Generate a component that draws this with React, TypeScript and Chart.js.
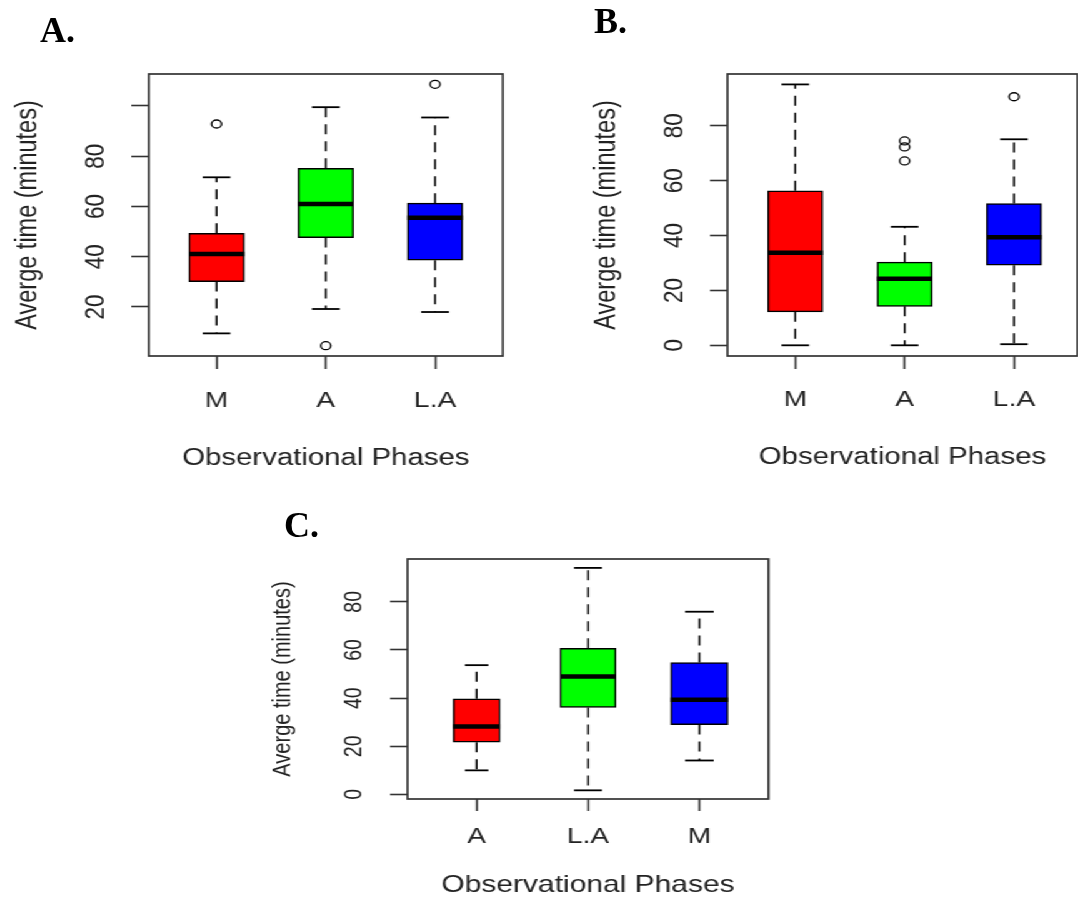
import React, { useEffect, useRef } from 'react';
import { Chart, registerables } from 'chart.js';

Chart.register(...registerables);

// ---------------- Data ----------------
// Panel A
const categoriesA = ['M', 'A', 'L.A'];
const whiskerLowA = [9.5, 19.2, 18.0];
const quartile1A = [30.1, 47.6, 38.6];
const medianA = [41.1, 61.0, 55.5];
const quartile3A = [49.3, 75.2, 61.3];
const whiskerHighA = [71.6, 99.5, 95.4];
const outliersA: number[][] = [[92.8], [4.6], [108.6]];
const yTicksA = [20, 40, 60, 80, 100];
const yTickLabelsA = ['20', '40', '60', '80', ''];

// Panel B
const categoriesB = ['M', 'A', 'L.A'];
const whiskerLowB = [0.0, 0.0, 0.4];
const quartile1B = [12.2, 14.2, 29.2];
const medianB = [33.7, 24.3, 39.4];
const quartile3B = [56.3, 30.3, 51.7];
const whiskerHighB = [95.1, 43.2, 75.1];
const outliersB: number[][] = [[], [74.5, 72.3, 67.2], [90.6]];
const yTicksB = [0, 20, 40, 60, 80];
const yTickLabelsB = ['0', '20', '40', '60', '80'];

// Panel C
const categoriesC = ['A', 'L.A', 'M'];
const whiskerLowC = [10.0, 1.7, 14.1];
const quartile1C = [21.7, 36.1, 29.0];
const medianC = [28.2, 49.0, 39.3];
const quartile3C = [39.7, 60.7, 54.8];
const whiskerHighC = [53.7, 94.1, 75.9];
const outliersC: number[][] = [[], [], []];
const yTicksC = [0, 20, 40, 60, 80];
const yTickLabelsC = ['0', '20', '40', '60', '80'];

const xAxisTitle = 'Observational Phases';
const yAxisTitle = 'Averge time (minutes)';

// ---------------- Styles / layout ----------------
const S = 1.25; // horizontal stretch of the original figure
const FONT = "'Liberation Sans', Arial, Helvetica, sans-serif";
const TEXT = '#222';
const INK = '#000';
const FRAME = '#333';
const boxColors = ['#ff0000', '#00ff00', '#0000ff'];
const PAD_T = 34;

type Panel = {
  categories: string[];
  low: number[];
  q1: number[];
  med: number[];
  q3: number[];
  high: number[];
  outliers: number[][];
  yTicks: number[];
  yTickLabels: string[];
  frame: { l: number; r: number; t: number; b: number };
  yMin: number;
  yMax: number;
  xMin: number;
  xMax: number;
  boxWidths: number[];
  yAxisW: number;
  xAxisH: number;
  xTickLen: number;
  xTickPad: number;
  yTickLen: number;
  yTickPad: number;
  xTickFont: number;
  yTickFont: number;
  xTitleFont: number;
  yTitleFont: number;
};

const panelA: Panel = {
  categories: categoriesA, low: whiskerLowA, q1: quartile1A, med: medianA, q3: quartile3A,
  high: whiskerHighA, outliers: outliersA, yTicks: yTicksA, yTickLabels: yTickLabelsA,
  frame: { l: 149, r: 503, t: 74, b: 356 },
  yMin: 0.5, yMax: 112.7, xMin: 0.38, xMax: 3.62,
  boxWidths: [55.5, 55.5, 55.5],
  yAxisW: 111, xAxisH: 117, xTickLen: 13, xTickPad: 18, yTickLen: 14, yTickPad: 15.5,
  xTickFont: 22.5, yTickFont: 22.5, xTitleFont: 23.5, yTitleFont: 23.5,
};

const panelB: Panel = {
  categories: categoriesB, low: whiskerLowB, q1: quartile1B, med: medianB, q3: quartile3B,
  high: whiskerHighB, outliers: outliersB, yTicks: yTicksB, yTickLabels: yTickLabelsB,
  frame: { l: 727, r: 1077, t: 74, b: 356 },
  yMin: -3.9, yMax: 98.9, xMin: 0.38, xMax: 3.58,
  boxWidths: [55.2, 55.2, 55.2],
  yAxisW: 111, xAxisH: 116, xTickLen: 13, xTickPad: 17.5, yTickLen: 14, yTickPad: 15.5,
  xTickFont: 22.5, yTickFont: 22.5, xTitleFont: 23.5, yTitleFont: 23.5,
};

const panelC: Panel = {
  categories: categoriesC, low: whiskerLowC, q1: quartile1C, med: medianC, q3: quartile3C,
  high: whiskerHighC, outliers: outliersC, yTicks: yTicksC, yTickLabels: yTickLabelsC,
  frame: { l: 407, r: 768, t: 559, b: 799 },
  yMin: -1.9, yMax: 97.8, xMin: 0.38, xMax: 3.62,
  boxWidths: [47, 56, 57.3],
  yAxisW: 112, xAxisH: 101, xTickLen: 12, xTickPad: 12.5, yTickLen: 14, yTickPad: 17.8,
  xTickFont: 22.5, yTickFont: 19.5, xTitleFont: 24, yTitleFont: 20,
};

function BoxPanel({ p }: { p: Panel }) {
  const ref = useRef<HTMLCanvasElement>(null);
  const plotW = (p.frame.r - p.frame.l) / S;
  const plotH = p.frame.b - p.frame.t;
  const left = p.frame.l / S - p.yAxisW;
  const top = p.frame.t - PAD_T;
  const width = Math.ceil(p.yAxisW + plotW + 8);
  const height = Math.round(PAD_T + plotH + p.xAxisH);
  const padRight = width - p.yAxisW - plotW;

  useEffect(() => {
    if (!ref.current) return;

    const datasets: any[] = p.categories.map((cat, i) => ({
      type: 'bar',
      label: cat,
      data: [{ x: i + 1, y: [p.q1[i], p.q3[i]] }],
      backgroundColor: boxColors[i],
      borderColor: INK,
      borderWidth: 1.5,
      borderSkipped: false,
      barThickness: p.boxWidths[i] / S,
      grouped: false,
      order: 2,
    }));
    datasets.push({
      type: 'scatter',
      label: 'outliers',
      data: p.outliers.flatMap((vals, i) => vals.map((v) => ({ x: i + 1, y: v }))),
      pointStyle: 'circle',
      pointRadius: 4,
      pointHoverRadius: 4,
      borderColor: INK,
      backgroundColor: 'rgba(0,0,0,0)',
      borderWidth: 1.3,
      order: 1,
    });

    const line = (ctx: CanvasRenderingContext2D, x1: number, y1: number, x2: number, y2: number) => {
      ctx.beginPath();
      ctx.moveTo(x1, y1);
      ctx.lineTo(x2, y2);
      ctx.stroke();
    };

    const boxExtras = {
      id: 'boxExtras',
      beforeDatasetsDraw(chart: any) {
        const { ctx } = chart;
        const xs = chart.scales.x;
        const ys = chart.scales.y;
        ctx.save();
        ctx.strokeStyle = INK;
        ctx.lineWidth = 1.5;
        p.categories.forEach((_, i) => {
          const bar = chart.getDatasetMeta(i).data[0];
          const cx = xs.getPixelForValue(i + 1);
          const half = bar.width / 2;
          const yLo = ys.getPixelForValue(p.low[i]);
          const yQ1 = ys.getPixelForValue(p.q1[i]);
          const yQ3 = ys.getPixelForValue(p.q3[i]);
          const yHi = ys.getPixelForValue(p.high[i]);
          ctx.setLineDash([10, 7]);
          line(ctx, cx, yQ3, cx, yHi);
          line(ctx, cx, yQ1, cx, yLo);
          ctx.setLineDash([]);
          ctx.lineWidth = 1.8;
          line(ctx, cx - half / 2, yHi, cx + half / 2, yHi);
          line(ctx, cx - half / 2, yLo, cx + half / 2, yLo);
          ctx.lineWidth = 1.5;
        });
        ctx.restore();
      },
      afterDatasetsDraw(chart: any) {
        const { ctx, chartArea } = chart;
        const ys = chart.scales.y;
        ctx.save();
        ctx.strokeStyle = INK;
        ctx.lineWidth = 4.5;
        ctx.lineCap = 'butt';
        p.categories.forEach((_, i) => {
          const bar = chart.getDatasetMeta(i).data[0];
          const ym = ys.getPixelForValue(p.med[i]);
          line(ctx, bar.x - bar.width / 2, ym, bar.x + bar.width / 2, ym);
        });
        ctx.strokeStyle = FRAME;
        ctx.lineWidth = 1.7;
        ctx.strokeRect(chartArea.left, chartArea.top, chartArea.right - chartArea.left, chartArea.bottom - chartArea.top);
        ctx.restore();
      },
    };

    const chart = new Chart(ref.current, {
      type: 'bar',
      data: { datasets },
      options: {
        animation: false,
        responsive: false,
        events: [],
        layout: { padding: { top: PAD_T, right: padRight, bottom: 0, left: 0 } },
        plugins: { legend: { display: false }, tooltip: { enabled: false } },
        scales: {
          x: {
            type: 'linear',
            min: p.xMin,
            max: p.xMax,
            offset: false,
            bounds: 'data',
            afterBuildTicks: (s: any) => {
              s.ticks = p.categories.map((_, i) => ({ value: i + 1 }));
            },
            afterFit: (s: any) => {
              s.height = p.xAxisH;
            },
            ticks: {
              callback: (v: any) => p.categories[Math.round(Number(v)) - 1] ?? '',
              font: { family: FONT, size: p.xTickFont },
              color: TEXT,
              padding: p.xTickPad,
              minRotation: 0,
              maxRotation: 0,
              autoSkip: false,
            },
            grid: {
              display: true,
              drawOnChartArea: false,
              drawTicks: true,
              tickLength: p.xTickLen,
              tickColor: FRAME,
              tickWidth: 1.6,
              offset: false,
            },
            border: { display: false },
            title: {
              display: true,
              text: xAxisTitle,
              font: { family: FONT, size: p.xTitleFont },
              color: TEXT,
              padding: 0,
            },
          },
          y: {
            type: 'linear',
            min: p.yMin,
            max: p.yMax,
            bounds: 'data',
            afterBuildTicks: (s: any) => {
              s.ticks = p.yTicks.map((v) => ({ value: v }));
            },
            afterFit: (s: any) => {
              s.width = p.yAxisW;
            },
            ticks: {
              callback: (v: any) => {
                const k = p.yTicks.indexOf(Number(v));
                return k >= 0 ? p.yTickLabels[k] : '';
              },
              font: { family: FONT, size: p.yTickFont },
              color: TEXT,
              padding: p.yTickPad,
              minRotation: 90,
              maxRotation: 90,
              crossAlign: 'center',
              autoSkip: false,
            },
            grid: {
              display: true,
              drawOnChartArea: false,
              drawTicks: true,
              tickLength: p.yTickLen,
              tickColor: FRAME,
              tickWidth: 1.6,
            },
            border: { display: false },
            title: {
              display: true,
              text: yAxisTitle,
              font: { family: FONT, size: p.yTitleFont },
              color: TEXT,
              padding: 0,
            },
          },
        },
      } as any,
      plugins: [boxExtras],
    } as any);

    return () => chart.destroy();
  }, []);

  return (
    <canvas
      ref={ref}
      width={width}
      height={height}
      style={{ position: 'absolute', left, top, width, height, display: 'block' }}
    />
  );
}

const letterStyle: React.CSSProperties = {
  position: 'absolute',
  font: "bold 36px 'Liberation Serif', 'Times New Roman', serif",
  lineHeight: '36px',
  color: '#000',
  margin: 0,
};

export default function App() {
  return (
    <div
      style={{
        position: 'absolute',
        left: 0,
        top: 0,
        width: 1078,
        height: 899,
        overflow: 'hidden',
        background: '#fff',
      }}
    >
      <div
        style={{
          position: 'absolute',
          left: 0,
          top: 0,
          width: 1078 / S,
          height: 899,
          transform: `scaleX(${S})`,
          transformOrigin: '0 0',
        }}
      >
        <BoxPanel p={panelA} />
        <BoxPanel p={panelB} />
        <BoxPanel p={panelC} />
      </div>
      <div style={{ ...letterStyle, left: 40, top: 12 }}>A.</div>
      <div style={{ ...letterStyle, left: 594, top: 3 }}>B.</div>
      <div style={{ ...letterStyle, left: 284, top: 507 }}>C.</div>
    </div>
  );
}
